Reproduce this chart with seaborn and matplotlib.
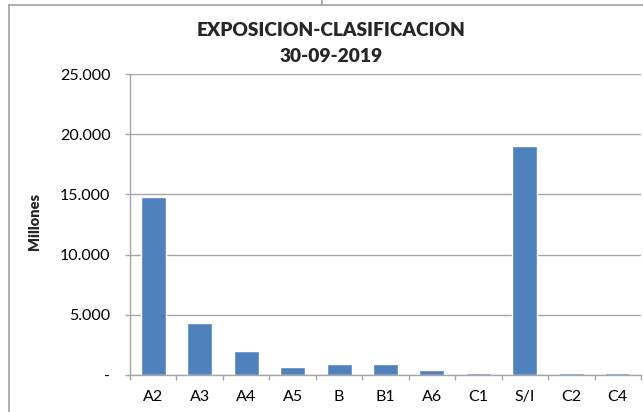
import matplotlib as mpl
mpl.use('Agg')
import matplotlib.pyplot as plt
from matplotlib.lines import Line2D
from matplotlib.ticker import FuncFormatter, FixedLocator
import seaborn as sns
import pandas as pd
import numpy as np

# datos (millones)
categorias = ['A2', 'A3', 'A4', 'A5', 'B', 'B1', 'A6', 'C1', 'S/I', 'C2', 'C4']
exposicion = [14750, 4320, 2030, 680, 950, 950, 420, 200, 19050, 130, 130]
yticks = [0, 5000, 10000, 15000, 20000, 25000]

df = pd.DataFrame({'clasificacion': categorias, 'exposicion': exposicion})

sns.set_theme(style='white')
plt.rcParams['font.family'] = ['Lato', 'DejaVu Sans']

fig = plt.figure(figsize=(6.43, 4.12), dpi=100)
ax = fig.add_axes([130 / 643, 37 / 412, 511 / 643, 301 / 412])

sns.barplot(data=df, x='clasificacion', y='exposicion', color='#4F81BD',
            saturation=1, width=0.54, ax=ax)

gris = '#A6A6A6'
ax.set_ylim(0, 25000)
ax.set_xlim(-0.5, len(categorias) - 0.5)
ax.set_yticks(yticks)
ax.yaxis.set_major_formatter(FuncFormatter(
    lambda v, p: '-' if v == 0 else f'{int(v):,}'.replace(',', '.')))
ax.grid(axis='y', color=gris, linewidth=1)
ax.set_axisbelow(True)
for s in ['top', 'right']:
    ax.spines[s].set_visible(False)
for s in ['left', 'bottom']:
    ax.spines[s].set_color(gris)
    ax.spines[s].set_linewidth(1)

ax.xaxis.set_minor_locator(FixedLocator(np.arange(-0.5, len(categorias), 1)))
ax.tick_params(axis='x', which='major', length=0, pad=11, labelsize=11.5)
ax.tick_params(axis='x', which='minor', length=3.6, width=1, color=gris, bottom=True)
ax.tick_params(axis='y', length=3.6, width=1, color=gris, left=True, labelsize=11.5,
               pad=10.5)
for lab in ax.get_yticklabels() + ax.get_xticklabels():
    lab.set_color('black')
ax.set_xlabel('')
ax.set_ylabel('')

fig.text(35 / 643, 1 - 222 / 412, 'Millones', rotation=90, fontsize=10.5,
         fontweight='heavy', ha='center', va='center')
fig.text(331 / 643, 1 - 30 / 412, 'EXPOSICION-CLASIFICACION', fontsize=13.8,
         fontweight='heavy', ha='center', va='center')
fig.text(331 / 643, 1 - 57 / 412, '30-09-2019', fontsize=13.8,
         fontweight='heavy', ha='center', va='center')

# bordes del area del grafico
borde = '#A0A0A0'
fig.add_artist(Line2D([9 / 643, 9 / 643], [0, 1 - 5 / 412], color=borde, lw=1.2))
fig.add_artist(Line2D([9 / 643, 1], [1 - 5 / 412, 1 - 5 / 412], color=borde, lw=1.2))
fig.add_artist(Line2D([322 / 643, 322 / 643], [1 - 5 / 412, 1], color=borde, lw=1.2))

fig.savefig('out.png', dpi=100)
